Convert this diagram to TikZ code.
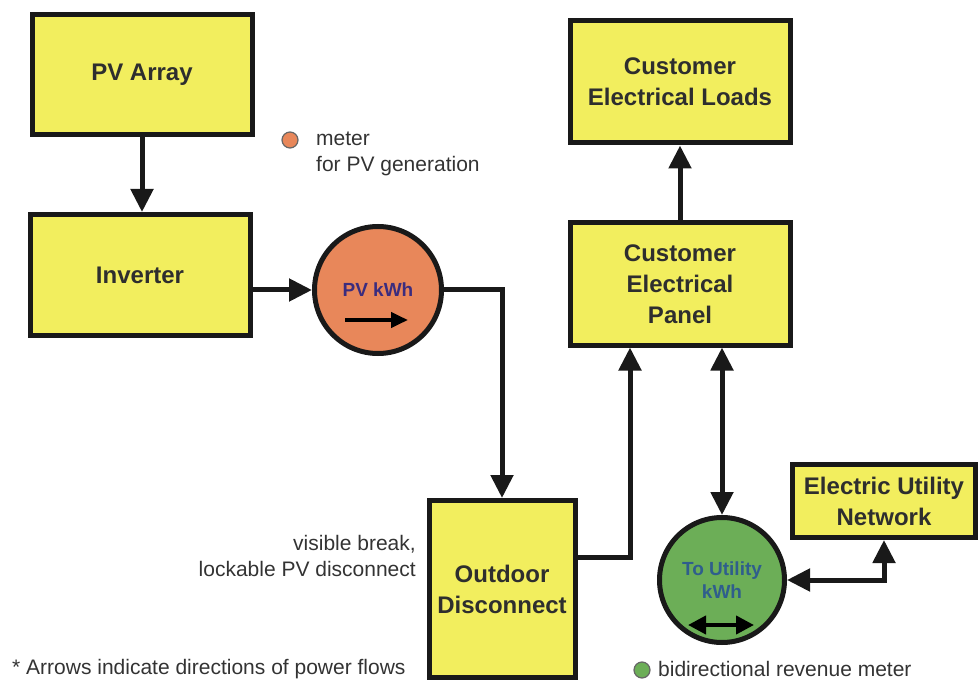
\documentclass[tikz,border=0pt]{standalone}
\usepackage{fontspec}
\setmainfont{Liberation Sans}
\usepackage{xcolor}
\usepackage{tikz}
\usetikzlibrary{positioning}
\usetikzlibrary{arrows.meta}

\definecolor{boxyellow}{HTML}{F2EE5E}
\definecolor{meterorange}{HTML}{E8875A}
\definecolor{metergreen}{HTML}{6CAE57}
\definecolor{inktext}{HTML}{2E2E2E}
\definecolor{pvblue}{HTML}{3B2C7E}
\definecolor{netblue}{HTML}{2F5E8C}

\tikzstyle{block} = [draw=black!90, line width=5pt, rectangle, fill=boxyellow,
text=inktext, align=center, inner sep=0pt,
font=\fontsize{24}{31}\selectfont\bfseries]
\tikzstyle{line} = [draw=black!90, line width=5pt, -{Triangle[length=23pt,width=22pt]}]

\begin{document}
\begin{tikzpicture}[x=1pt, y=-1pt,
  meter/.style={draw=black!90, line width=5pt, circle, inner sep=0pt,
  align=center, font=\fontsize{19}{23}\selectfont\bfseries},
  both/.style={line, {Triangle[length=23pt,width=22pt]}-{Triangle[length=23pt,width=22pt]}},
  dot/.style={circle, draw=black!60, line width=1.2pt, minimum size=16pt, inner sep=0pt},
  note/.style={text=black!80, inner sep=0pt, font=\fontsize{21}{26}\selectfont}]
  \useasboundingbox (0,0) rectangle (979,684);
  %% PV side
  \node [block, minimum width=220pt, minimum height=120pt] (pvarray) at (142,75) {PV Array};
  \node [block, minimum width=220pt, minimum height=121pt] (inverter) at (140,275) {Inverter};
  \node [meter, fill=meterorange, text=pvblue, minimum size=127pt] (pvmeter) at (378,290) {PV kWh};
  \node [block, minimum width=146pt, minimum height=177pt] (outdoor) at (502,589) {Outdoor\\Disconnect};
  %% customer side
  \node [block, minimum width=220pt, minimum height=122pt] (loads) at (680,82) {Customer\\Electrical Loads};
  \node [block, minimum width=220pt, minimum height=122pt] (panel) at (680,284) {Customer\\Electrical\\Panel};
  \node [meter, fill=metergreen, text=netblue, minimum size=125pt] (netmeter) at (722,580) {To Utility\\kWh};
  \node [block, minimum width=183pt, minimum height=73pt] (utility) at (884,501) {Electric Utility\\Network};
  %% meter arrows
  \draw [line width=4pt, -{Triangle[length=17pt,width=15pt]}]
  ([xshift=-33pt,yshift=-30pt]pvmeter.center) -- ([xshift=30pt,yshift=-30pt]pvmeter.center);
  \draw [line width=4pt, {Triangle[length=18pt,width=18pt]}-{Triangle[length=18pt,width=18pt]}]
  ([xshift=-34pt,yshift=-45pt]netmeter.center) -- ([xshift=32pt,yshift=-45pt]netmeter.center);
  %% Arrows
  \path [line] (pvarray.south) -- (pvarray.south |- inverter.north);
  \path [line] (pvmeter.west -| inverter.east) -- (pvmeter.west);
  \path [line] (pvmeter.east) -| (outdoor.north);
  \path [line] ([yshift=32pt]outdoor.east) -| ([xshift=-50pt]panel.south);
  \path [line] (panel.north) -- (loads.south);
  \path [both] (panel.south -| netmeter.north) -- (netmeter.north);
  \path [both] (netmeter.east) -| (utility.south);
  %% notes
  \node [dot, fill=meterorange] (pvdot) at (290,140) {};
  \node [note, anchor=west, align=left] (pvnote) at (316,154) {meter\\for PV generation};
  \node [note, anchor=east, align=right] (breaknote) at (416,556) {visible break,\\lockable PV disconnect};
  \node [note, anchor=west] (flownote) at (12,669) {* Arrows indicate directions of power flows};
  \node [dot, fill=metergreen] (netdot) at (642,670) {};
  \node [note, anchor=west] (netnote) at (658,669) {bidirectional revenue meter};
\end{tikzpicture}
\end{document}
